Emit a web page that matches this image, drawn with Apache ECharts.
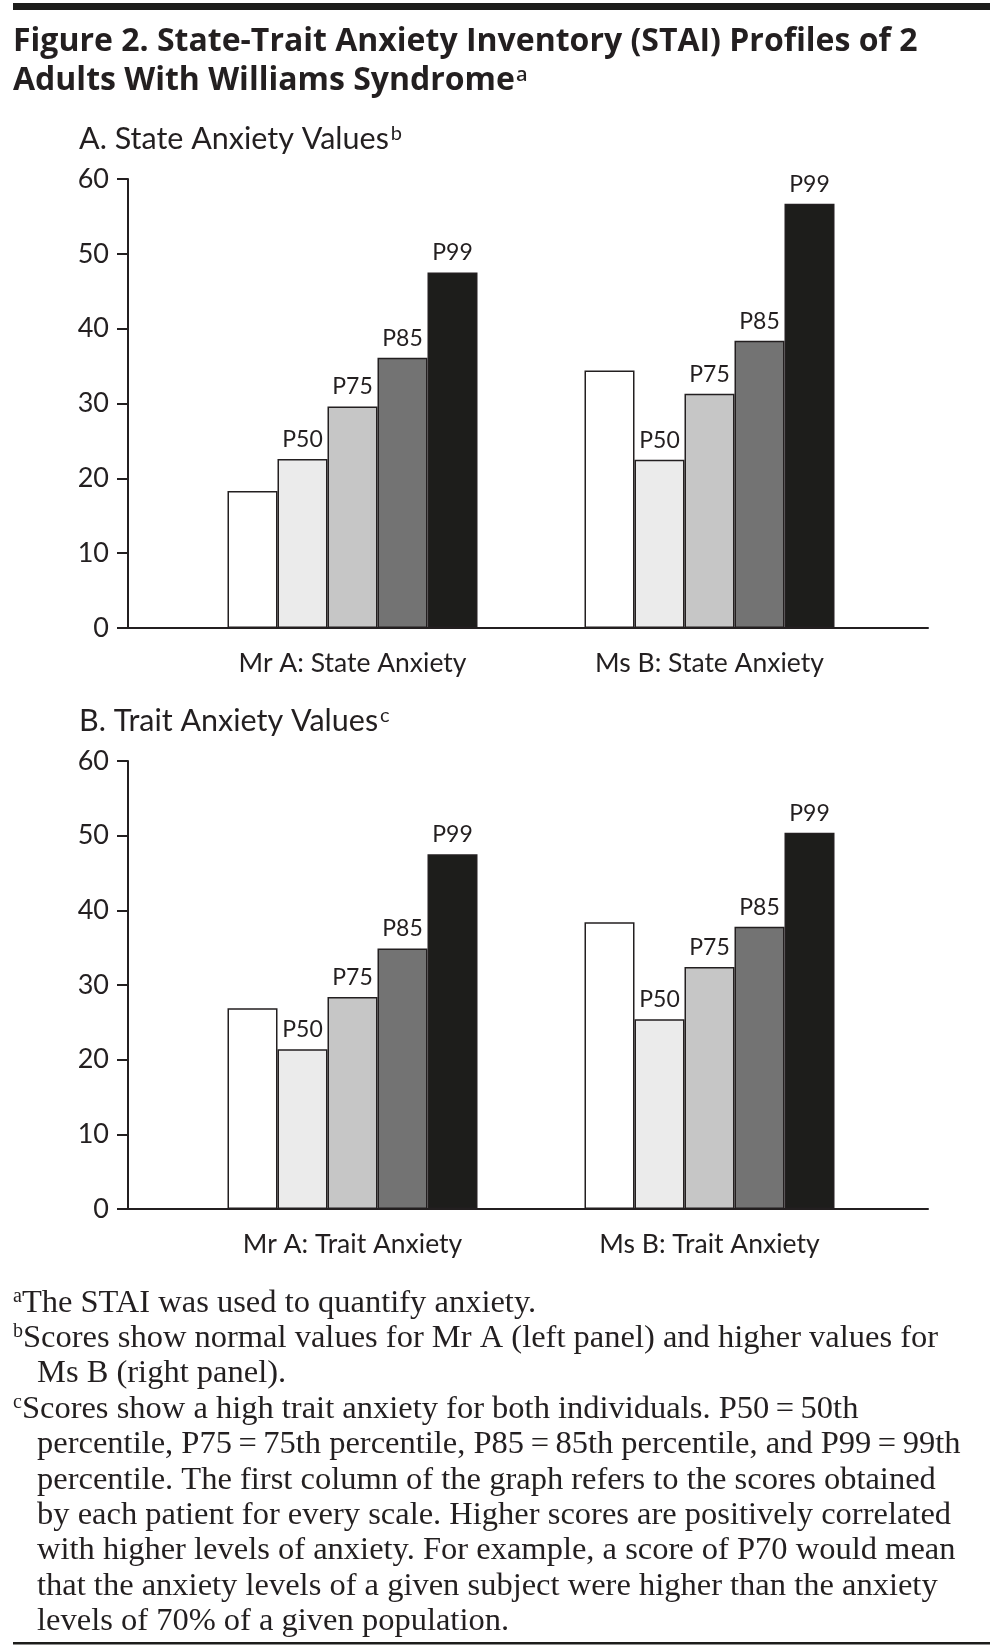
<!DOCTYPE html>
<html><head><meta charset="utf-8">
<script src="https://cdn.jsdelivr.net/npm/echarts@6/dist/echarts.min.js"></script>
<style>html,body{margin:0;padding:0;background:#fff}#c{width:1005px;height:1651px}</style>
</head><body><div id="c"></div>
<script>
// ---- data ----
const seriesNames = ['Patient score', 'P50', 'P75', 'P85', 'P99'];
const stateCategories = ['Mr A: State Anxiety', 'Ms B: State Anxiety'];
const traitCategories = ['Mr A: Trait Anxiety', 'Ms B: Trait Anxiety'];
const stateScore = [18.3, 34.4];
const stateP50 = [22.6, 22.5];
const stateP75 = [29.6, 31.3];
const stateP85 = [36.1, 38.4];
const stateP99 = [47.5, 56.7];
const traitScore = [26.9, 38.4];
const traitP50 = [21.4, 25.4];
const traitP75 = [28.4, 32.4];
const traitP85 = [34.9, 37.8];
const traitP99 = [47.5, 50.4];
const yMin = 0, yMax = 60, yStep = 10;

// ---- style ----
const INK = '#231f20';
const SANS = 'Lato';
const SERIF = 'Liberation Serif';
const fills = ['#ffffff', '#ebebeb', '#c6c6c6', '#737373', '#1d1d1b'];

const chart = echarts.init(document.getElementById('c'), null, {renderer: 'canvas'});

const panels = [
  {cats: stateCategories, data: [stateScore, stateP50, stateP75, stateP85, stateP99], top: 179, height: 449},
  {cats: traitCategories, data: [traitScore, traitP50, traitP75, traitP85, traitP99], top: 761, height: 448}
];

const grid = [], xAxis = [], yAxis = [], series = [];
panels.forEach((p, i) => {
  const gFrame = grid.length;
  grid.push({left: 128, width: 800, top: p.top, height: p.height});
  const gBars = grid.length;
  grid.push({left: 174, width: 714, top: p.top, height: p.height});
  xAxis.push({gridIndex: gFrame, type: 'category', data: [''],
    axisLine: {show: true, lineStyle: {color: INK, width: 2}},
    axisTick: {show: false}, axisLabel: {show: false}, splitLine: {show: false}});
  xAxis.push({gridIndex: gBars, type: 'category', data: p.cats,
    axisLine: {show: false}, axisTick: {show: false},
    axisLabel: {show: true, margin: 22, fontFamily: SANS, fontSize: 26.5, color: INK}});
  yAxis.push({gridIndex: gFrame, type: 'value', min: yMin, max: yMax, interval: yStep,
    axisLine: {show: true, lineStyle: {color: INK, width: 2}},
    axisTick: {show: true, length: 11, lineStyle: {color: INK, width: 2}},
    axisLabel: {show: true, margin: 19, fontFamily: SANS, fontSize: 27, color: INK},
    splitLine: {show: false}});
  yAxis.push({gridIndex: gBars, type: 'value', min: yMin, max: yMax, interval: yStep, show: false, splitLine: {show: false}});
  p.data.forEach((arr, k) => {
    series.push({
      type: 'bar', name: seriesNames[k], xAxisIndex: gBars, yAxisIndex: gBars,
      data: arr, barWidth: 50, barGap: '0%',
      itemStyle: {color: fills[k], borderColor: INK, borderWidth: 1.5},
      label: {show: k > 0, position: 'top', distance: 8, formatter: '{a}',
        fontFamily: SANS, fontSize: 23, color: INK},
      emphasis: {disabled: true}, animation: false
    });
  });
});

function txt(x, yMid, text, size, family, weight, rich) {
  return {type: 'text', x: x, y: yMid, silent: true,
    style: {text: text, fontSize: size, fontFamily: family, fontWeight: weight || 'normal',
      fill: INK, align: 'left', verticalAlign: 'middle', rich: rich || {}}};
}
const supTitle = {sup: {fontSize: 20, fontFamily: 'Open Sans', fontWeight: 600, verticalAlign: 'top', fill: INK, padding: [0, 0, 0, 1]}};
const supSans = {sup: {fontSize: 20, fontFamily: SANS, verticalAlign: 'top', fill: INK, padding: [0, 0, 0, 2]}};
const supSerif = {sup: {fontSize: 20, fontFamily: SERIF, verticalAlign: 'top', fill: INK}};

const footBase = 1314, footStep = 35.4, FS = 32.5;
const footLines = [
  [13, '{sup|a}The STAI was used to quantify anxiety.'],
  [13, '{sup|b}Scores show normal values for Mr A (left panel) and higher values for'],
  [37, 'Ms B (right panel).'],
  [13, '{sup|c}Scores show a high trait anxiety for both individuals. P50\u2009=\u200950th'],
  [37, 'percentile, P75\u2009=\u200975th percentile, P85\u2009=\u200985th percentile, and P99\u2009=\u200999th'],
  [37, 'percentile. The first column of the graph refers to the scores obtained'],
  [37, 'by each patient for every scale. Higher scores are positively correlated'],
  [37, 'with higher levels of anxiety. For example, a score of P70 would mean'],
  [37, 'that the anxiety levels of a given subject were higher than the anxiety'],
  [37, 'levels of 70% of a given population.']
];

const graphic = [
  {type: 'rect', silent: true, shape: {x: 13, y: 3, width: 977, height: 7}, style: {fill: '#1d1d1b'}},
  txt(13, 41.5, 'Figure 2. State-Trait Anxiety Inventory (STAI) Profiles of 2', 32, 'Open Sans', 700),
  txt(13, 81, 'Adults With Williams Syndrome{sup|a}', 32, 'Open Sans', 700, supTitle),
  txt(79, 139, 'A. State Anxiety Values{sup|b}', 30.5, SANS, 'normal', supSans),
  txt(79, 721, 'B. Trait Anxiety Values{sup|c}', 30.5, SANS, 'normal', supSans),
  {type: 'rect', silent: true, shape: {x: 13, y: 1642, width: 977, height: 2.5}, style: {fill: '#1d1d1b'}}
];
footLines.forEach((l, i) => graphic.push(txt(l[0], footBase - 11 + i * footStep, l[1], FS, SERIF, 'normal', supSerif)));

chart.setOption({
  backgroundColor: '#ffffff',
  animation: false,
  grid: grid, xAxis: xAxis, yAxis: yAxis, series: series,
  graphic: graphic
});
</script>
</body></html>
